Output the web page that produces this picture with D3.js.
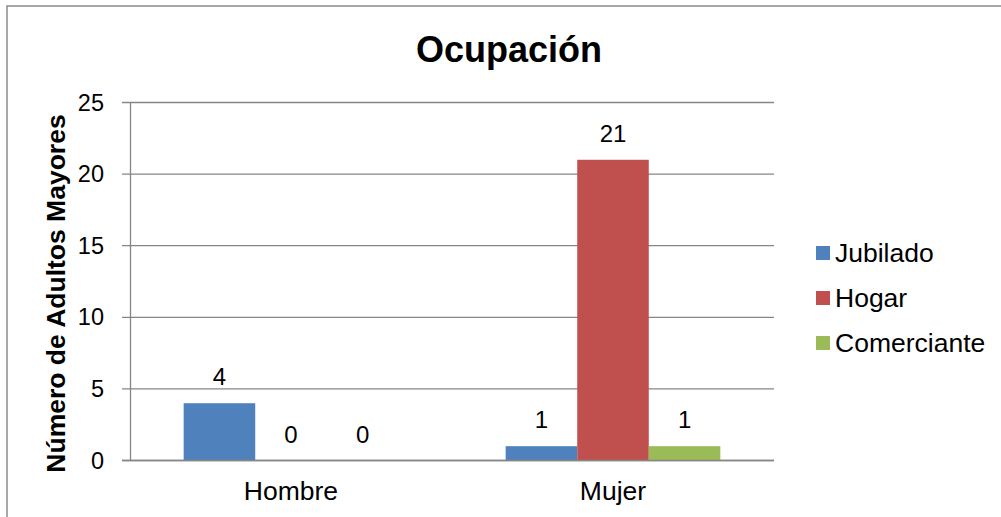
<!DOCTYPE html>
<html>
<head>
<meta charset="utf-8">
<script src="https://cdn.jsdelivr.net/npm/d3@7"></script>
<style>
  body { margin: 0; background: #fff; }
  svg { display: block; font-family: "Liberation Sans", Arial, sans-serif; }
</style>
</head>
<body>
<script>
// data
const categories = ["Hombre", "Mujer"];
const series = ["Jubilado", "Hogar", "Comerciante"];
const jubilado = [4, 1];
const hogar = [0, 21];
const comerciante = [0, 1];
const yTicks = [0, 5, 10, 15, 20, 25];
const colors = ["#4F81BD", "#C0504D", "#9BBB59"];

document.addEventListener('DOMContentLoaded', function() {
    const w = 1001, h = 517;
    const left = 130, right = 774, top = 102.5, bottom = 460.5;
    const values = [jubilado, hogar, comerciante];

    const svg = d3.select("body")
        .append("svg")
        .attr("width", w)
        .attr("height", h);

    //outer border (runs off right and bottom)
    svg.append("rect")
        .attr("x", 7).attr("y", 6)
        .attr("width", w + 10).attr("height", h + 10)
        .attr("fill", "none")
        .attr("stroke", "#8c8c8c")
        .attr("stroke-width", 1.5);

    const yScale = d3.scaleLinear()
        .domain([0, 25])
        .range([bottom, top]);

    const x0 = d3.scaleBand()
        .domain(categories)
        .range([left, right])
        .padding(0);

    const x1 = d3.scaleBand()
        .domain(series)
        .range([0, x0.bandwidth()])
        .paddingInner(0)
        .paddingOuter(0.75);

    //gridlines
    svg.append("g")
        .selectAll("line")
        .data(yTicks)
        .enter()
        .append("line")
        .attr("x1", left - 8)
        .attr("x2", right)
        .attr("y1", d => yScale(d))
        .attr("y2", d => yScale(d))
        .attr("stroke", "#868686")
        .attr("stroke-width", 1.3);

    //y axis
    const yAxis = d3.axisLeft(yScale).tickValues(yTicks).tickSize(0).tickPadding(26);
    const yg = svg.append("g")
        .attr("transform", "translate(" + left + ",0)")
        .call(yAxis);
    yg.select(".domain").attr("stroke", "#868686").attr("stroke-width", 1.3);
    yg.selectAll("text")
        .attr("font-size", "23.5px")
        .attr("font-family", "Liberation Sans, Arial, sans-serif")
        .attr("fill", "#000");

    //bars
    series.forEach(function(s, si) {
        svg.append("g")
            .selectAll("rect")
            .data(values[si])
            .enter()
            .append("rect")
            .attr("x", (d, i) => x0(categories[i]) + x1(s))
            .attr("y", d => yScale(d))
            .attr("width", x1.bandwidth())
            .attr("height", d => bottom - yScale(d))
            .attr("fill", colors[si]);

        svg.append("g")
            .selectAll("text")
            .data(values[si])
            .enter()
            .append("text")
            .attr("x", (d, i) => x0(categories[i]) + x1(s) + x1.bandwidth() / 2)
            .attr("y", d => yScale(d) - 18)
            .attr("text-anchor", "middle")
            .attr("font-size", "24px")
            .text(d => d);
    });

    //x axis line
    svg.append("line")
        .attr("x1", left - 8).attr("x2", right)
        .attr("y1", bottom).attr("y2", bottom)
        .attr("stroke", "#868686")
        .attr("stroke-width", 1.3);

    //category labels
    svg.append("g")
        .selectAll("text")
        .data(categories)
        .enter()
        .append("text")
        .attr("x", d => x0(d) + x0.bandwidth() / 2)
        .attr("y", 500)
        .attr("text-anchor", "middle")
        .attr("font-size", "26.5px")
        .text(d => d);

    //title
    svg.append("text")
        .attr("x", 509)
        .attr("y", 62)
        .attr("text-anchor", "middle")
        .attr("font-size", "36px")
        .attr("font-weight", "bold")
        .text("Ocupación");

    //y label
    svg.append("text")
        .attr("transform", "translate(65," + ((top + bottom) / 2 + 12) + ") rotate(-90)")
        .attr("text-anchor", "middle")
        .attr("font-size", "26.5px")
        .attr("font-weight", "bold")
        .text("Número de Adultos Mayores");

    //legend
    const legend = svg.append("g")
        .selectAll("g")
        .data(series)
        .enter()
        .append("g")
        .attr("transform", (d, i) => "translate(816," + (246 + i * 45) + ")");
    legend.append("rect")
        .attr("width", 14).attr("height", 14)
        .attr("fill", (d, i) => colors[i]);
    legend.append("text")
        .attr("x", 19)
        .attr("y", 16)
        .attr("font-size", "26.5px")
        .text(d => d);
});
</script>
</body>
</html>
